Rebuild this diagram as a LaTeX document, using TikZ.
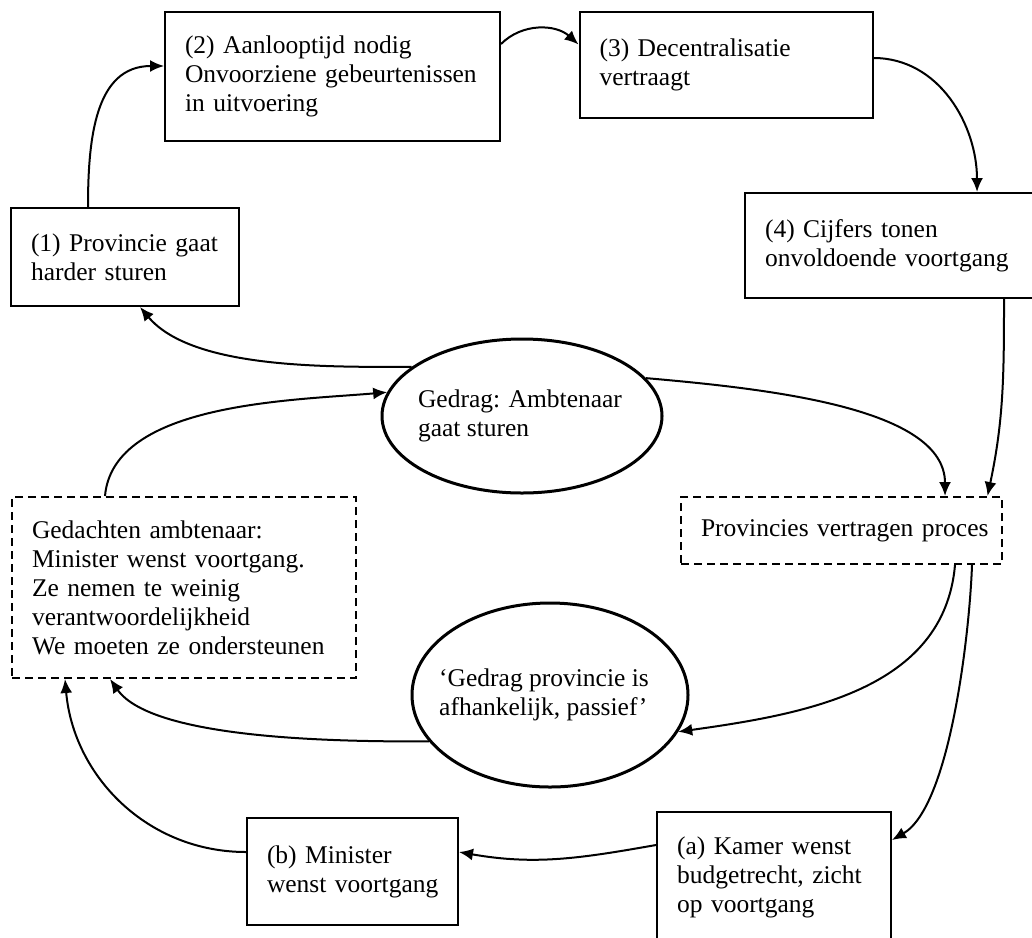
\documentclass[tikz,border=0pt]{standalone}
\usepackage{fontspec}
\setmainfont{Liberation Serif}
\usetikzlibrary{arrows.meta,shapes.geometric,calc}
\tikzset{
  txt/.style={font=\fontsize{25.5}{29}\selectfont},
  box/.style={draw, rectangle, line width=2pt, inner xsep=20pt, inner ysep=2pt, align=left, txt,
    execute at begin node={\hyphenpenalty=10000 \exhyphenpenalty=10000 \hbadness=10000 \hfuzz=\maxdimen}},
  dbox/.style={box, dash pattern=on 8pt off 5pt},
  ell/.style={draw, ellipse, line width=3pt, inner sep=0pt},
  etext/.style={align=left, txt, inner sep=0pt},
  arr/.style={line width=2pt, -{Latex[length=14pt,width=12pt]}}
}
\begin{document}
\begin{tikzpicture}[x=1pt,y=1pt]
\fill[white] (0,0) rectangle (1032,-937);
\path[use as bounding box, clip] (0,0) rectangle (1032,-937);

\node[box, minimum width=335pt, minimum height=129pt, text width=295pt] (b2) at (332.5,-76.5)
  {(2)~Aanlooptijd~nodig\\ Onvoorziene~gebeurtenissen\\ in~uitvoering};
\node[box, minimum width=228pt, minimum height=98pt, text width=188pt] (b1) at (125,-257)
  {(1)~Provincie~gaat\\ harder~sturen};
\node[box, minimum width=293pt, minimum height=106pt, text width=253pt] (b3) at (726,-65)
  {(3)~Decentralisatie\\ vertraagt};
\node[box, minimum width=295pt, minimum height=105pt, text width=255pt] (b4) at (892.5,-245.5)
  {(4)~Cijfers~tonen\\ onvoldoende~voortgang};
\node[dbox, minimum width=344pt, minimum height=181pt, text width=304pt] (gd) at (184,-587.5)
  {Gedachten~ambtenaar:\\ Minister~wenst~voortgang.\\ Ze~nemen~te~weinig\\ verantwoordelijkheid\\ We~moeten~ze~ondersteunen};
\node[dbox, minimum width=321pt, minimum height=67pt, text width=281pt] (pv) at (841.5,-530.5)
  {Provincies~vertragen~proces};
\node[box, minimum width=211pt, minimum height=107pt, text width=171pt] (bb) at (352.5,-871.5)
  {(b)~Minister\\ wenst~voortgang};
\node[box, minimum width=234pt, minimum height=130pt, text width=194pt] (ba) at (774,-877)
  {(a)~Kamer~wenst\\ budgetrecht,~zicht\\ op~voortgang};
\node[ell, minimum width=280pt, minimum height=154pt,
  label={[etext, xshift=-2pt]center:Gedrag: Ambtenaar\\ gaat sturen}] (e1) at (522,-416) {};
\node[ell, minimum width=276pt, minimum height=184pt,
  label={[etext, xshift=-6pt]center:‘Gedrag provincie is\\ afhankelijk, passief’}] (e2) at (550,-695) {};

% connectors
\draw[arr] ([xshift=-37pt]b1.north) to[out=90, in=180, looseness=1.1] ([yshift=10.5pt]b2.west);
\draw[arr] ([yshift=32.5pt]b2.east) to[out=45, in=138] ([yshift=20.5pt]b3.west);
\draw[arr] ([yshift=7pt]b3.east) to[out=0, in=90] ([xshift=84.5pt]b4.north);
\draw[arr] ([xshift=111.5pt]b4.south) to[out=-90, in=78] ([xshift=146pt]pv.north);
\draw[arr] (e1.17) to[out=-5, in=90, out looseness=1.0, in looseness=0.7] ([xshift=103.5pt]pv.north);
\draw[arr] (e1.156) to[out=180, in=-50, looseness=0.75] ([xshift=15pt]b1.south);
\draw[arr] ([xshift=-79pt]gd.north) to[out=85, in=185, looseness=0.8] (e1.170);
\draw[arr] ([xshift=113.5pt]pv.south) to[out=-95, in=8] (e2.-16);
\draw[arr] (e2.201) to[out=180, in=-55, looseness=0.6] ([xshift=-74pt]gd.south);
\draw[arr] ([xshift=130.5pt]pv.south) to[out=-92, in=30, looseness=0.6] ([yshift=37pt]ba.east);
\draw[arr] ([yshift=32pt]ba.west) to[out=190, in=-10] ([yshift=19.5pt]bb.east);
\draw[arr] ([yshift=19.5pt]bb.west) to[out=180, in=-85] ([xshift=-119pt]gd.south);
\end{tikzpicture}
\end{document}
